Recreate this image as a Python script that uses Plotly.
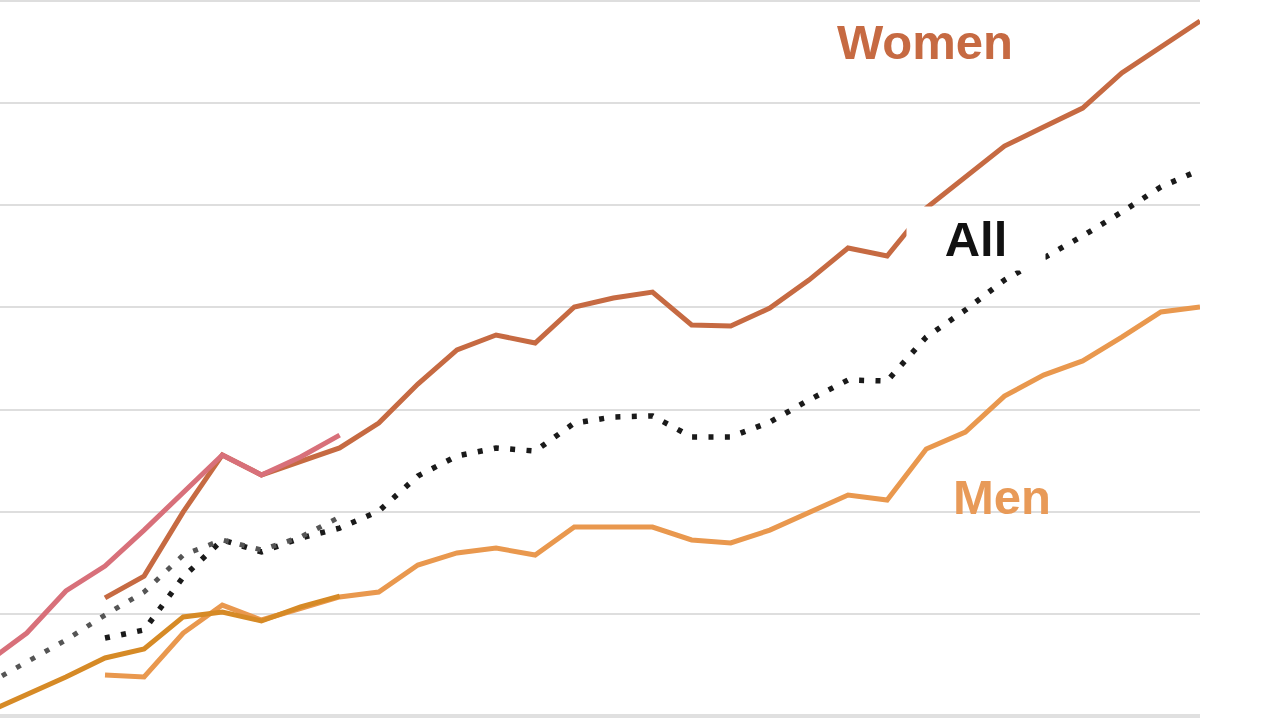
import plotly.graph_objects as go

# ---- data ----
years_new = list(range(1990, 2019))
women_new = [5.78, 6.85, 9.99, 12.78, 11.80, 12.43, 13.12, 14.34, 16.25, 17.92,
             18.65, 18.26, 20.02, 20.46, 20.75, 19.14, 19.09, 19.97, 21.34, 22.91,
             22.52, 24.87, 26.38, 27.90, 28.83, 29.76, 31.48, 32.75, 34.02]
men_new = [2.01, 1.91, 4.06, 5.43, 4.70, 5.29, 5.83, 6.07, 7.39, 7.98,
           8.22, 7.88, 9.25, 9.25, 9.25, 8.62, 8.47, 9.10, 9.99, 10.82,
           10.57, 13.07, 13.90, 15.66, 16.69, 17.38, 18.55, 19.78, 20.02]
all_new = [3.82, 4.21, 6.80, 8.62, 8.03, 8.71, 9.20, 10.03, 11.75, 12.73,
           13.12, 12.97, 14.34, 14.64, 14.69, 13.66, 13.66, 14.39, 15.47, 16.45,
           16.40, 18.55, 19.87, 21.34, 22.42, 23.50, 24.67, 25.90, 26.73]

years_old = list(range(1987, 1997))
women_old = [2.64, 4.06, 6.12, 7.34, 9.10, 10.96, 12.78, 11.80, 12.68, 13.75]
men_old = [0.20, 1.03, 1.91, 2.84, 3.28, 4.85, 5.09, 4.65, 5.34, 5.87]
all_old = [1.57, 2.64, 3.72, 4.94, 6.07, 7.88, 8.62, 8.13, 8.76, 9.74]

label_text = ["Women", "All", "Men"]
label_x = [2010.97, 2012.28, 2012.94]
label_y = [32.99, 23.37, 10.72]

# ---- styles ----
C_WOMEN = "#c66a42"
C_WOMEN_OLD = "#d8707a"
C_MEN = "#e9984e"
C_MEN_OLD = "#d68a26"
C_ALL = "#1a1a1a"
C_ALL_OLD = "#555555"
DOTS = "5px,11.4px"

fig = go.Figure()

# new series
fig.add_trace(go.Scatter(x=years_new, y=men_new, mode="lines",
                         line=dict(color=C_MEN, width=5)))
fig.add_trace(go.Scatter(x=years_new, y=women_new, mode="lines",
                         line=dict(color=C_WOMEN, width=5)))
fig.add_trace(go.Scatter(x=years_new, y=all_new, mode="lines",
                         line=dict(color=C_ALL, width=5.5, dash=DOTS)))
# old series
fig.add_trace(go.Scatter(x=years_old, y=men_old, mode="lines",
                         line=dict(color=C_MEN_OLD, width=5)))
fig.add_trace(go.Scatter(x=years_old, y=women_old, mode="lines",
                         line=dict(color=C_WOMEN_OLD, width=5)))
fig.add_trace(go.Scatter(x=years_old, y=all_old, mode="lines",
                         line=dict(color=C_ALL_OLD, width=5, dash=DOTS)))

label_colors = [C_WOMEN, "#111111", "#e89a58"]
for i, t in enumerate(label_text):
    kw = {}
    if t == "All":
        kw = dict(bgcolor="white", width=138, height=63, borderpad=0)
    fig.add_annotation(x=label_x[i], y=label_y[i], text=f"<b>{t}</b>",
                       showarrow=False, xanchor="center", yanchor="middle",
                       font=dict(family="Liberation Sans, Arial, sans-serif",
                                 size=49, color=label_colors[i]), **kw)

fig.update_layout(
    width=1280, height=720,
    margin=dict(l=0, r=80, t=0, b=0),
    paper_bgcolor="white", plot_bgcolor="white",
    showlegend=False,
    xaxis=dict(range=[1987.315, 2018.0], visible=False),
    yaxis=dict(range=[-0.196, 35.05], tick0=0, dtick=5,
               showticklabels=False, ticks="",
               showgrid=True, gridcolor="#dedede", gridwidth=2,
               zeroline=True, zerolinecolor="#e0e0e0", zerolinewidth=4,
               showline=False),
)

fig.write_html("out.html")
